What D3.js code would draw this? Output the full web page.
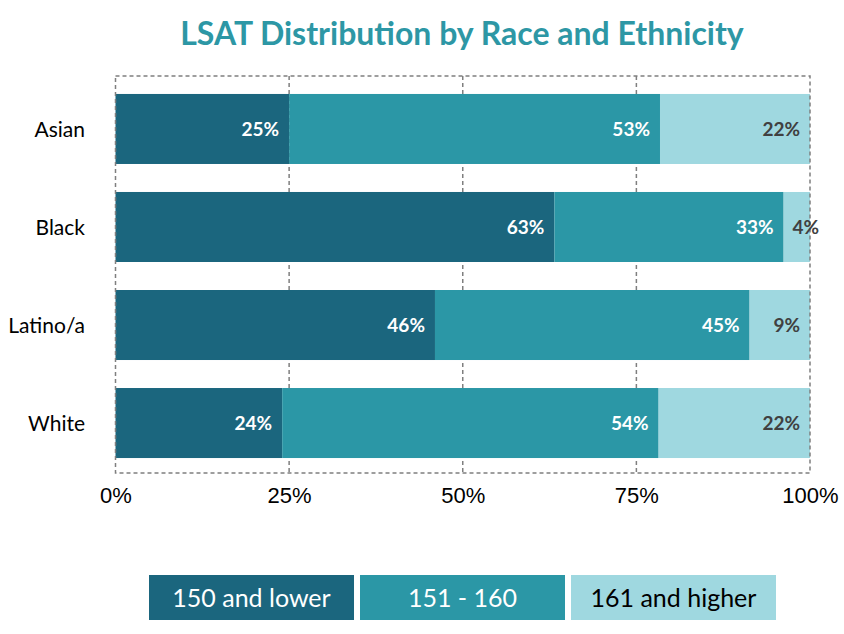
<!DOCTYPE html>
<html><head><meta charset="utf-8">
<script src="https://cdn.jsdelivr.net/npm/d3@7"></script>
<style>body{margin:0;background:#fff;} svg{display:block;font-family:"Gill Sans","Gill Sans MT",Lato,sans-serif;}</style>
</head><body><svg id="c" width="844" height="634"></svg>
<script>
const categories = ["Asian","Black","Latino/a","White"];
const seriesNames = ["150 and lower","151 - 160","161 and higher"];
const low = [25.0, 63.2, 46.0, 24.0];
const mid = [53.4, 33.0, 45.3, 54.2];
const high = [21.6, 3.8, 8.7, 21.8];
const labelsLow = ["25%","63%","46%","24%"];
const labelsMid = ["53%","33%","45%","54%"];
const labelsHigh = ["22%","4%","9%","22%"];
const tickValues = [0,25,50,75,100];
const colors = ["#1b667e","#2b97a6","#9fd8e0"];
const labelColors = ["#ffffff","#ffffff","#404040"];

const svg = d3.select("#c");
const x = d3.scaleLinear().domain([0,100]).range([115.5,810]);
const y = d3.scaleBand().domain(categories).range([77.5,474.5]).paddingInner(0.2857).paddingOuter(0.168);

svg.append("text").attr("x",462).attr("y",45).attr("text-anchor","middle")
  .attr("font-size",32).attr("font-weight","bold").attr("fill","#2d97a5")
  .text("LSAT Distribution by Race and Ethnicity");

// grid
svg.append("g").selectAll("line").data([25,50,75]).join("line")
  .attr("x1",d=>x(d)).attr("x2",d=>x(d)).attr("y1",76).attr("y2",473)
  .attr("stroke","#7f7f7f").attr("stroke-width",1.5).attr("stroke-dasharray","4,3");

const series = [low, mid, high];
const lbls = [labelsLow, labelsMid, labelsHigh];
const rows = categories.map((c,i)=>{
  let acc = 0;
  return series.map((s,k)=>{const r={cat:c,k,x0:acc,x1:acc+s[i],label:lbls[k][i]}; acc+=s[i]; return r;});
}).flat();

svg.append("g").selectAll("rect").data(rows).join("rect")
  .attr("x",d=>x(d.x0)).attr("width",d=>x(d.x1)-x(d.x0))
  .attr("y",d=>y(d.cat)).attr("height",y.bandwidth())
  .attr("fill",d=>colors[d.k]);

// border
svg.append("rect").attr("x",115.5).attr("y",76).attr("width",694.5).attr("height",397)
  .attr("fill","none").attr("stroke","#7f7f7f").attr("stroke-width",1.5).attr("stroke-dasharray","4,3");

svg.append("g").selectAll("text").data(rows).join("text")
  .attr("x",d=>d.k===2 && d.x1-d.x0<6 ? x(d.x1)+9 : x(d.x1)-10)
  .attr("y",d=>y(d.cat)+y.bandwidth()/2).attr("dy","0.36em")
  .attr("text-anchor","end").attr("font-size",19).attr("font-weight","bold")
  .attr("fill",d=>labelColors[d.k]).text(d=>d.label);

// category axis
svg.append("g").selectAll("text").data(categories).join("text")
  .attr("x",85).attr("y",d=>y(d)+y.bandwidth()/2).attr("dy","0.36em")
  .attr("text-anchor","end").attr("font-size",21).attr("fill","#000").text(d=>d);

// x axis
const xa = svg.append("g").attr("transform","translate(0,479)")
  .call(d3.axisBottom(x).tickValues(tickValues).tickFormat(d=>d+"%").tickSize(0).tickPadding(8));
xa.select(".domain").remove();
xa.selectAll("text").attr("font-size",22).attr("fill","#000").attr("font-family",null);

// legend
const lx = d3.scaleBand().domain(seriesNames).range([149,776]).paddingInner(0.0284);
const lg = svg.append("g").selectAll("g").data(seriesNames).join("g")
  .attr("transform",d=>`translate(${lx(d)},575)`);
lg.append("rect").attr("width",lx.bandwidth()).attr("height",45).attr("fill",(d,i)=>colors[i]);
lg.append("text").attr("x",lx.bandwidth()/2).attr("y",23).attr("dy","0.36em")
  .attr("text-anchor","middle").attr("font-size",25).attr("fill",(d,i)=>i===2?"#000":"#fff").text(d=>d);
</script></body></html>
